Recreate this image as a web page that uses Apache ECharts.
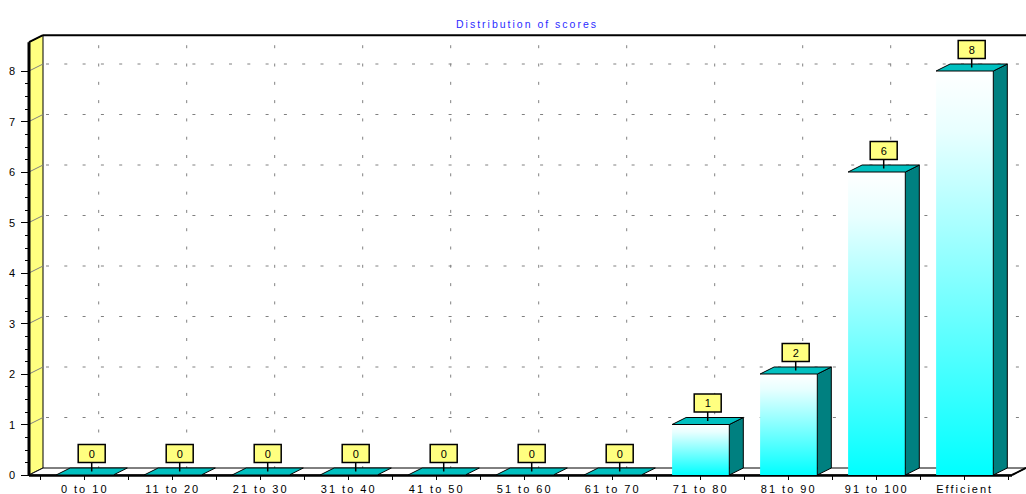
<!DOCTYPE html>
<html><head><meta charset="utf-8">
<script src="https://cdn.jsdelivr.net/npm/echarts@6/dist/echarts.min.js"></script>
<style>
html,body{margin:0;padding:0;background:#fff}
#c{width:1026px;height:494px}
#c text{letter-spacing:2px}
</style>
</head><body><div id="c"></div>
<script>
const categories = ['0 to 10','11 to 20','21 to 30','31 to 40','41 to 50','51 to 60','61 to 70','71 to 80','81 to 90','91 to 100','Efficient'];
const scores = [0,0,0,0,0,0,0,1,2,6,8];
const yTicks = [0,1,2,3,4,5,6,7,8];
const titleText = 'Distribution of scores';

const DX = 14, DY = -7;        // depth offset of the 3D box
const WALL_TOP = 8.57;         // value reached by the top of the wall
const AXIS_GAP = 11.7;         // front y-axis sits left of the first category band
const RIGHT_PAD = 3.3;         // floor extends past the last band
const BAR_RATIO = 0.65;
const FONT = 'Liberation Sans, Arial, sans-serif';

const chart = echarts.init(document.getElementById('c'), null, {renderer:'svg'});

function renderBack(params, api){
  const cs = params.coordSys;
  const xf0 = cs.x - AXIS_GAP, xb0 = xf0 + DX;
  const xfr = cs.x + cs.width + RIGHT_PAD, xbr = xfr + DX;
  const y0 = api.coord([0,0])[1];
  const yTop = api.coord([0, WALL_TOP])[1];
  const ch = [];
  const dash = {stroke:'#808080', lineWidth:1, lineDash:[3,15.3]};
  yTicks.forEach(v => {
    if (v === 0) return;
    const y = api.coord([0,v])[1] + DY;
    ch.push({type:'line', shape:{x1:xb0+3, y1:y, x2:xbr, y2:y}, style:dash});
  });
  categories.forEach((c,i) => {
    const x = api.coord([i,0])[0] + DX;
    ch.push({type:'line', shape:{x1:x, y1:yTop+DY+10, x2:x, y2:y0+DY}, style:dash});
  });
  ch.push({type:'line', shape:{x1:xb0, y1:yTop+DY, x2:xbr+20, y2:yTop+DY}, style:{stroke:'#000', lineWidth:2}});
  ch.push({type:'polygon', shape:{points:[[xf0,y0],[xf0,yTop],[xb0,yTop+DY],[xb0,y0+DY]]}, style:{fill:'#ffff80', stroke:'#000', lineWidth:1}});
  yTicks.forEach(v => {
    const y = api.coord([0,v])[1];
    ch.push({type:'line', shape:{x1:xf0, y1:y, x2:xb0, y2:y+DY}, style:{stroke:'#808080', lineWidth:1}});
  });
  ch.push({type:'line', shape:{x1:xf0, y1:yTop, x2:xb0, y2:yTop+DY}, style:{stroke:'#000', lineWidth:2}});
  ch.push({type:'line', shape:{x1:xf0, y1:yTop, x2:xf0, y2:y0}, style:{stroke:'#000', lineWidth:3}});
  ch.push({type:'polygon', shape:{points:[[xf0,y0],[xfr,y0],[xbr,y0+DY],[xb0,y0+DY]]}, style:{fill:'#fff', stroke:'#000', lineWidth:1}});
  ch.push({type:'line', shape:{x1:xf0, y1:y0+0.5, x2:xfr, y2:y0+0.5}, style:{stroke:'#000', lineWidth:2.5}});
  ch.push({type:'line', shape:{x1:xfr, y1:y0, x2:xbr, y2:y0+DY}, style:{stroke:'#000', lineWidth:2}});
  return {type:'group', children:ch};
}

function renderBar(params, api){
  const i = api.value(0), v = api.value(1);
  const base = api.coord([i,0]);
  const top = api.coord([i,v]);
  const w = api.size([1,0])[0] * BAR_RATIO;
  const xl = base[0]-w/2, xr = base[0]+w/2, yb = base[1], yt = top[1];
  const ch = [];
  if (yb - yt > 0.5) {
    ch.push({type:'rect', shape:{x:xl, y:yt, width:w, height:yb-yt},
      style:{fill:new echarts.graphic.LinearGradient(0,0,0,1,[{offset:0,color:'#ffffff'},{offset:0.15,color:'#e8ffff'},{offset:1,color:'#00ffff'}])}});
    ch.push({type:'polygon', shape:{points:[[xr,yt],[xr+DX,yt+DY],[xr+DX,yb+DY],[xr,yb]]}, style:{fill:'#008080', stroke:'#000', lineWidth:1}});
  }
  ch.push({type:'polygon', shape:{points:[[xl,yt],[xr,yt],[xr+DX,yt+DY],[xl+DX,yt+DY]]}, style:{fill:'#00c0c0', stroke:'#000', lineWidth:1}});
  const cx = base[0] + DX/2, cy = yt + DY/2;
  ch.push({type:'line', shape:{x1:cx, y1:cy, x2:cx, y2:cy-9}, style:{stroke:'#000', lineWidth:1.5}});
  ch.push({type:'rect', shape:{x:cx-13.5, y:cy-27, width:27, height:18}, style:{fill:'#ffff80', stroke:'#000', lineWidth:1.5}});
  ch.push({type:'text', x:cx+1, y:cy-18, style:{text:String(v), fill:'#000', font:'11px ' + FONT, align:'center', verticalAlign:'middle'}});
  return {type:'group', children:ch};
}

chart.setOption({
  animation:false,
  backgroundColor:'#fff',
  title:{text:titleText, left:522, top:13, textAlign:'center',
    textStyle:{color:'#2b2bff', fontSize:10.5, fontWeight:'normal', fontFamily:FONT}},
  grid:{left:40.7, right:17.3, top:71, bottom:17, containLabel:false},
  xAxis:[
    {type:'category', data:categories, position:'bottom',
      axisLine:{show:false}, splitLine:{show:false},
      axisTick:{show:true, alignWithLabel:false, length:5, lineStyle:{color:'#000', width:1}},
      axisLabel:{color:'#000', fontSize:11, fontFamily:FONT, margin:8, interval:0}},
    {type:'category', data:categories, position:'bottom',
      axisLine:{show:false}, splitLine:{show:false},
      axisTick:{show:true, alignWithLabel:true, length:5, lineStyle:{color:'#000', width:1}},
      axisLabel:{show:false}}
  ],
  yAxis:{type:'value', min:0, max:8, interval:1, offset:AXIS_GAP,
    axisLine:{show:false}, splitLine:{show:false},
    axisTick:{show:true, length:8, lineStyle:{color:'#000', width:1}},
    minorTick:{show:true, splitNumber:4, length:4, lineStyle:{color:'#000', width:1}},
    axisLabel:{color:'#000', fontSize:11, fontFamily:FONT, margin:12}},
  series:[
    {type:'custom', renderItem:renderBack, data:[[0]], z:1, silent:true, clip:false},
    {type:'custom', renderItem:renderBar, data:scores.map((s,i)=>[i,s]), z:2, clip:false,
      encode:{x:0, y:1}}
  ]
});
</script>
</body></html>
